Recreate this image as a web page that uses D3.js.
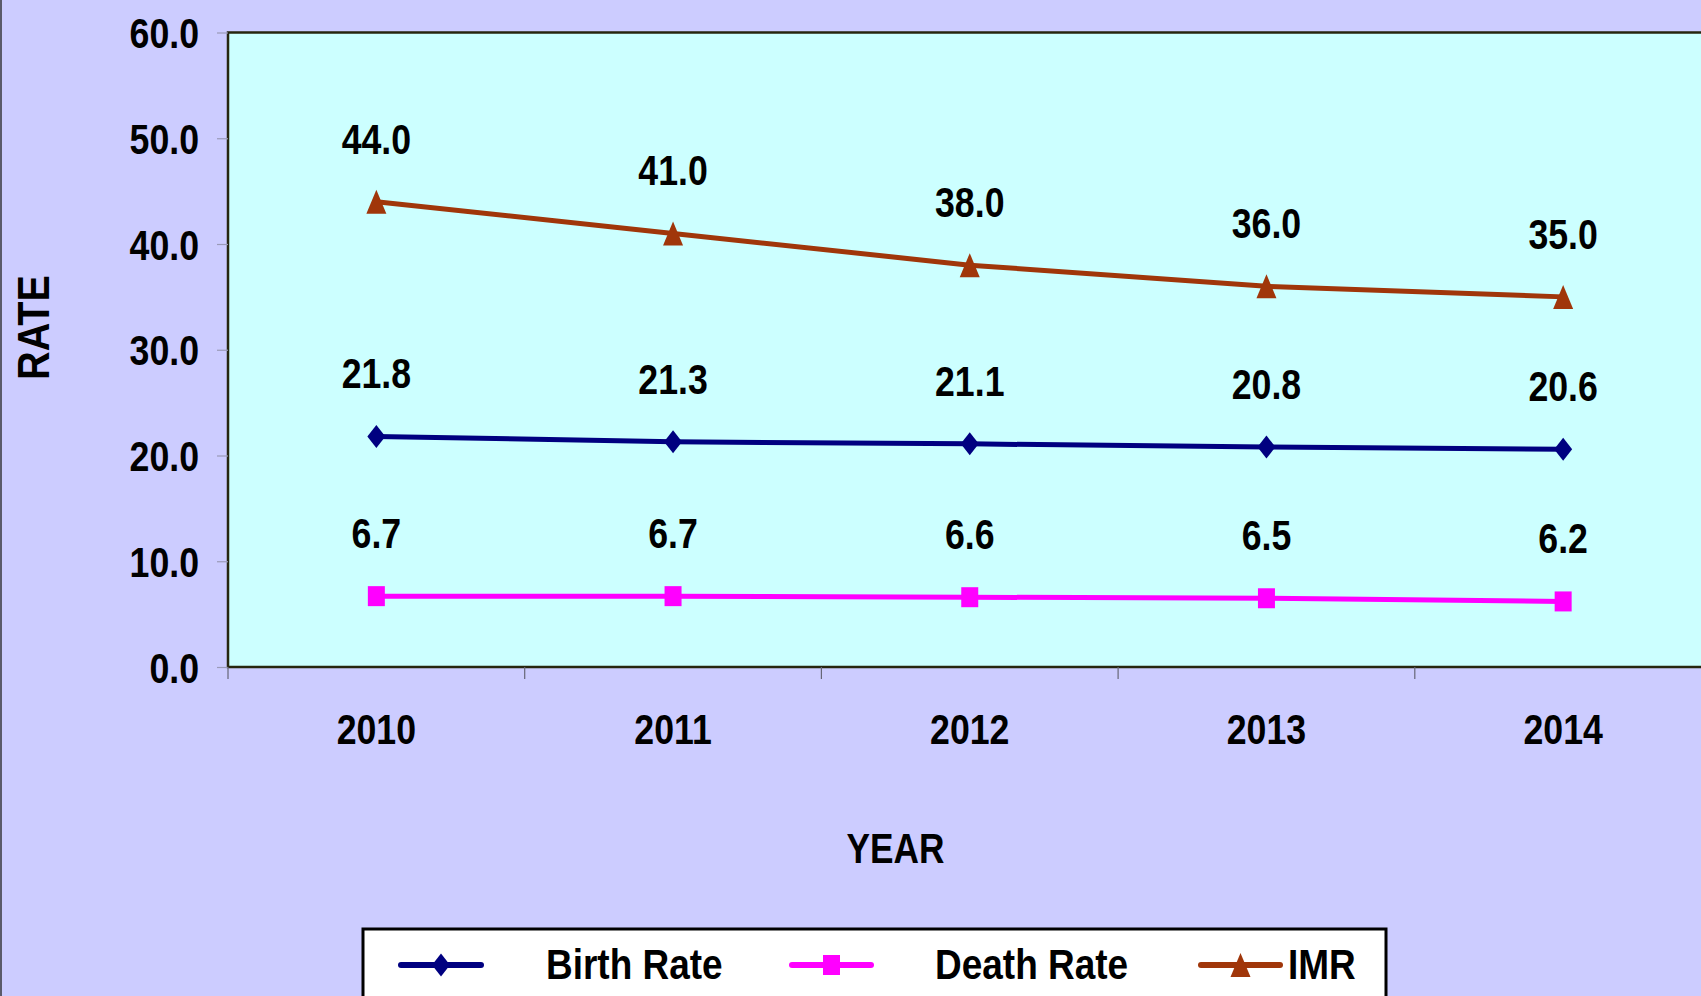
<!DOCTYPE html>
<html>
<head>
<meta charset="utf-8">
<script src="https://cdn.jsdelivr.net/npm/d3@7"></script>
<style>
  html, body { margin: 0; padding: 0; background: #CCCCFF; overflow: hidden; }
  text { font-family: "Liberation Sans", Arial, sans-serif; font-weight: bold; fill: #000; }
</style>
</head>
<body>
<svg id="chart" width="1701" height="996"></svg>
<script>
// ---- data ----
const years = ["2010", "2011", "2012", "2013", "2014"];
const birthRate = [21.8, 21.3, 21.1, 20.8, 20.6];
const deathRate = [6.7, 6.7, 6.6, 6.5, 6.2];
const imr = [44.0, 41.0, 38.0, 36.0, 35.0];
const yTicks = [0, 10, 20, 30, 40, 50, 60];
const seriesNames = ["Birth Rate", "Death Rate", "IMR"];

// ---- layout ----
const W = 1701, H = 996;
const plot = { left: 228, top: 32.5, bottom: 667, right: 1711.5 };
const FS = 43, SX = 0.83;

const svg = d3.select("#chart");
svg.append("rect").attr("width", W).attr("height", H).attr("fill", "#CCCCFF");
svg.append("rect").attr("x", 0).attr("y", 0).attr("width", 2).attr("height", H).attr("fill", "#5a5a6a");

const x = d3.scaleBand().domain(years).range([plot.left, plot.right]);
const y = d3.scaleLinear().domain([0, 60]).range([plot.bottom, plot.top]);

// plot background + border
svg.append("rect")
  .attr("x", plot.left).attr("y", plot.top)
  .attr("width", plot.right - plot.left).attr("height", plot.bottom - plot.top)
  .attr("fill", "#CCFFFF").attr("stroke", "#26260f").attr("stroke-width", 2.5);

// helper for condensed text
function ctext(parent, tx, ty, str, opts = {}) {
  const g = parent.append("g")
    .attr("transform", `translate(${tx},${ty}) ${opts.rotate ? "rotate(" + opts.rotate + ")" : ""} scale(${opts.sx || SX},1)`);
  g.append("text")
    .attr("text-anchor", opts.anchor || "middle")
    .attr("font-size", opts.fs || FS)
    .text(str);
  return g;
}

// y axis
const yAxis = d3.axisLeft(y).tickValues(yTicks).tickFormat(d3.format(".1f")).tickSize(11).tickPadding(0);
const yg = svg.append("g").attr("transform", `translate(${plot.left},0)`).call(yAxis);
yg.select(".domain").remove();
yg.selectAll(".tick line").attr("stroke", "#9a9ab8").attr("stroke-width", 1.2);
yg.selectAll(".tick text").remove();
yg.selectAll(".tick").each(function(d) {
  ctext(d3.select(this), -29, 15, d3.format(".1f")(d), { anchor: "end" });
});

// x axis: labels at band centers, ticks at band boundaries
const xAxis = d3.axisBottom(x).tickSize(0).tickFormat(d => d);
const xg = svg.append("g").attr("transform", `translate(0,${plot.bottom})`).call(xAxis);
xg.select(".domain").remove();
xg.selectAll(".tick text").remove();
xg.selectAll(".tick").each(function(d) {
  ctext(d3.select(this), 0, 77, d);
});
const boundaries = years.map(d => x(d)).concat([x.range()[1]]);
svg.append("g").selectAll("line").data(boundaries).join("line")
  .attr("x1", d => d).attr("x2", d => d)
  .attr("y1", plot.bottom).attr("y2", plot.bottom + 12)
  .attr("stroke", "#666677").attr("stroke-width", 1.2);

// axis titles
ctext(svg, 895.5, 863, "YEAR", { sx: 0.82 });
ctext(svg, 49, 327.5, "RATE", { rotate: -90, sx: 0.9, fs: 44 });

// markers
const markerPath = {
  diamond: (w, h) => `M0,${-h/2}L${w/2},0L0,${h/2}L${-w/2},0Z`,
  square: (w, h) => `M${-w/2},${-h/2}H${w/2}V${h/2}H${-w/2}Z`,
  triangle: (w, h) => `M0,${-h/2}L${w/2},${h/2}L${-w/2},${h/2}Z`
};

const series = [
  { name: seriesNames[0], values: birthRate, color: "#000080", marker: "diamond", mw: 18, mh: 23 },
  { name: seriesNames[1], values: deathRate, color: "#FF00FF", marker: "square", mw: 17, mh: 20 },
  { name: seriesNames[2], values: imr, color: "#A0360A", marker: "triangle", mw: 20, mh: 24 }
];

const cx = d => x(d) + x.bandwidth() / 2;
const line = d3.line().x(d => cx(d.year)).y(d => y(d.value));

series.forEach(s => {
  const pts = years.map((yr, i) => ({ year: yr, value: s.values[i] }));
  svg.append("path").datum(pts)
    .attr("d", line).attr("fill", "none")
    .attr("stroke", s.color).attr("stroke-width", 5).attr("stroke-linejoin", "round");
  svg.append("g").selectAll("path").data(pts).join("path")
    .attr("transform", d => `translate(${cx(d.year)},${y(d.value)})`)
    .attr("d", markerPath[s.marker](s.mw, s.mh))
    .attr("fill", s.color);
  pts.forEach(p => {
    ctext(svg, cx(p.year), y(p.value) - 48, d3.format(".1f")(p.value));
  });
});

// legend
const lg = svg.append("g");
lg.append("rect").attr("x", 363).attr("y", 929).attr("width", 1386 - 363).attr("height", 120)
  .attr("fill", "#FFFFFF").attr("stroke", "#000").attr("stroke-width", 3);
const legendItems = [
  { s: series[0], x1: 401, x2: 481, tx: 546 },
  { s: series[1], x1: 792, x2: 871, tx: 935 },
  { s: series[2], x1: 1201, x2: 1280, tx: 1288 }
];
const ly = 965;
legendItems.forEach(it => {
  lg.append("line").attr("x1", it.x1).attr("x2", it.x2).attr("y1", ly).attr("y2", ly)
    .attr("stroke", it.s.color).attr("stroke-width", 6).attr("stroke-linecap", "round");
  lg.append("path").attr("transform", `translate(${(it.x1 + it.x2) / 2},${ly})`)
    .attr("d", markerPath[it.s.marker](it.s.mw, it.s.mh))
    .attr("fill", it.s.color);
  ctext(lg, it.tx, 979, it.s.name, { anchor: "start", sx: 0.86, fs: 43 });
});
</script>
</body>
</html>
